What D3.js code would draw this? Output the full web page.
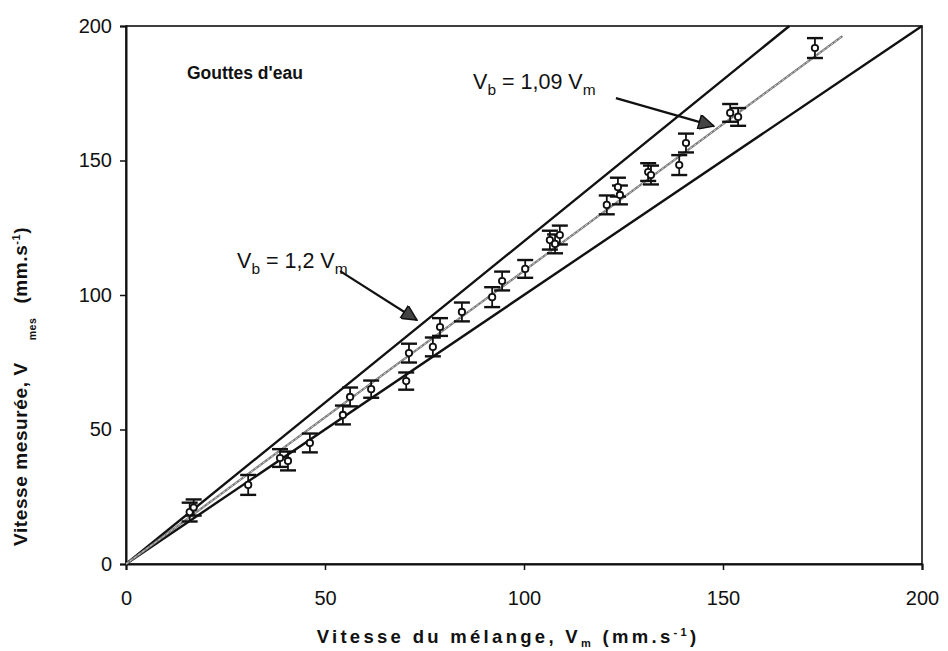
<!DOCTYPE html>
<html><head><meta charset="utf-8">
<script src="https://cdn.jsdelivr.net/npm/d3@7"></script>
<style>body{margin:0;background:#fff}svg{display:block}text{font-family:"Liberation Sans",Arial,sans-serif;fill:#111}</style>
</head><body><svg id="c" width="948" height="651"></svg>
<script>
const vm = [16.0,17.0,30.7,38.7,40.7,46.2,54.5,56.3,61.6,70.4,71.1,77.1,78.9,84.4,92.0,94.5,100.3,106.5,107.8,109.0,120.8,123.6,124.1,131.2,131.9,139.0,140.7,151.8,153.8,173.1];
const vmes = [19.3,21.0,29.4,39.4,38.3,45.0,55.4,62.1,65.0,68.0,78.4,80.7,88.1,93.7,99.2,105.2,109.7,120.4,119.0,122.3,133.5,140.1,137.2,145.7,144.6,148.3,156.5,167.7,166.2,191.8];
const err = [3.5,3.0,3.7,3.3,3.5,3.5,3.5,3.5,3.2,3.2,3.5,3.5,3.3,3.5,3.7,3.5,3.3,3.5,3.5,3.5,3.5,3.5,3.5,3.3,3.5,3.7,3.5,3.3,3.3,3.7];
const xTicks = [0,50,100,150,200];
const yTicks = [0,50,100,150,200];
const slopeUpper = 1.2, slopeLower = 1.0, slopeFit = 1.09, fitEnd = 180;

const svg = d3.select("#c");
const x = d3.scaleLinear().domain([0,200]).range([126,922]);
const y = d3.scaleLinear().domain([0,200]).range([564,26]);

svg.append("rect").attr("x",x(0)).attr("y",y(200)).attr("width",x(200)-x(0)).attr("height",y(0)-y(200))
  .attr("fill","none").attr("stroke","#111").attr("stroke-width",1.6);

const xa = svg.append("g").attr("transform",`translate(0,${y(0)})`)
  .call(d3.axisBottom(x).tickValues(xTicks).tickSize(6).tickPadding(21));
const ya = svg.append("g").attr("transform",`translate(${x(0)},0)`)
  .call(d3.axisLeft(y).tickValues(yTicks).tickSize(6).tickPadding(8));
[xa,ya].forEach(a=>{a.select(".domain").attr("stroke","#111").attr("stroke-width",2);
  a.selectAll(".tick line").attr("stroke","#111").attr("stroke-width",1.5);
  a.selectAll("text").style("font-size","20px").style("font-family","Liberation Sans, Arial, sans-serif").attr("fill","#111");});

const line = d3.line().x(d=>x(d[0])).y(d=>y(d[1]));
svg.append("path").attr("d",line([[0,0],[200/slopeUpper,200]])).attr("stroke","#111").attr("stroke-width",2.4).attr("fill","none");
svg.append("path").attr("d",line([[0,0],[200,200*slopeLower]])).attr("stroke","#111").attr("stroke-width",2.4).attr("fill","none");
svg.append("path").attr("d",line([[0,0],[fitEnd,fitEnd*slopeFit]])).attr("stroke","#777").attr("stroke-width",2.2).attr("fill","none");
svg.append("path").attr("d",line([[0,0],[fitEnd,fitEnd*slopeFit]])).attr("stroke","#ddd").attr("stroke-width",0.8).attr("stroke-dasharray","3,2").attr("fill","none");

const pts = vm.map((v,i)=>({x:v,y:vmes[i],e:err[i]}));
const g = svg.append("g");
pts.forEach(p=>{
  g.append("line").attr("x1",x(p.x)).attr("x2",x(p.x)).attr("y1",y(p.y+p.e)).attr("y2",y(p.y-p.e)).attr("stroke","#111").attr("stroke-width",1.8);
  [p.y+p.e,p.y-p.e].forEach(v=>g.append("line").attr("x1",x(p.x)-8).attr("x2",x(p.x)+8).attr("y1",y(v)).attr("y2",y(v)).attr("stroke","#111").attr("stroke-width",2.4));
});
g.selectAll("circle").data(pts).join("circle").attr("cx",d=>x(d.x)).attr("cy",d=>y(d.y)).attr("r",3.2)
  .attr("fill","#fff").attr("stroke","#111").attr("stroke-width",1.8);

const defs = svg.append("defs");
defs.append("marker").attr("id","ah").attr("viewBox","0 0 10 10").attr("refX",10).attr("refY",5)
  .attr("markerWidth",18).attr("markerHeight",15).attr("orient","auto").attr("markerUnits","userSpaceOnUse")
  .append("path").attr("d","M0,0L10,5L0,10z").attr("fill","#444").attr("stroke","#111").attr("stroke-width",1);
const arrows = [[[123.1,173.2],[147.7,162.8]],[[53.8,108.9],[73.1,90.7]]];
arrows.forEach(a=>svg.append("path").attr("d",line(a)).attr("stroke","#111").attr("stroke-width",2.2).attr("fill","none").attr("marker-end","url(#ah)"));

function lab(px,py,parts,size){
  const t = svg.append("text").attr("x",x(px)).attr("y",y(py)).style("font-size",size+"px");
  parts.forEach(p=>{const s=t.append("tspan").text(p[0]);
    if(p[1]==="sub"){s.attr("dy",6).style("font-size",(size*0.72)+"px");}
    else if(p[1]==="back"){s.attr("dy",-6);} });
  return t;
}
lab(87.2,176.5,[["V"],["b","sub"],[" = 1,09 V","back"],["m","sub"]],21.5);
lab(27.9,110,[["V"],["b","sub"],[" = 1,2 V","back"],["m","sub"]],21.5);
svg.append("text").attr("x",x(15.3)).attr("y",y(180.2)).style("font-size","17.5px").style("font-weight","bold").text("Gouttes d'eau");

const xt = svg.append("text").attr("x",508).attr("y",643).attr("text-anchor","middle")
  .style("font-size","18.5px").style("font-weight","bold").style("letter-spacing","3.3px");
xt.append("tspan").text("Vitesse du mélange, V");
xt.append("tspan").text("m").attr("dy",4).style("font-size","11px");
xt.append("tspan").text(" (mm.s").attr("dy",-4);
xt.append("tspan").text("-1").attr("dy",-7).style("font-size","11px");
xt.append("tspan").text(")").attr("dy",7);

const yt = svg.append("text").attr("transform","translate(27,546) rotate(-90)").attr("text-anchor","start")
  .style("font-size","19px").style("font-weight","bold").style("letter-spacing","0.6px");
yt.append("tspan").text("Vitesse mesurée, V");
yt.append("tspan").text("mes").attr("dx",22).attr("dy",9).style("font-size","10.5px");
yt.append("tspan").text(" (mm.s").attr("dx",8).attr("dy",-9);
yt.append("tspan").text("-1").attr("dy",-7).style("font-size","11px");
yt.append("tspan").text(")").attr("dy",7);
</script></body></html>
